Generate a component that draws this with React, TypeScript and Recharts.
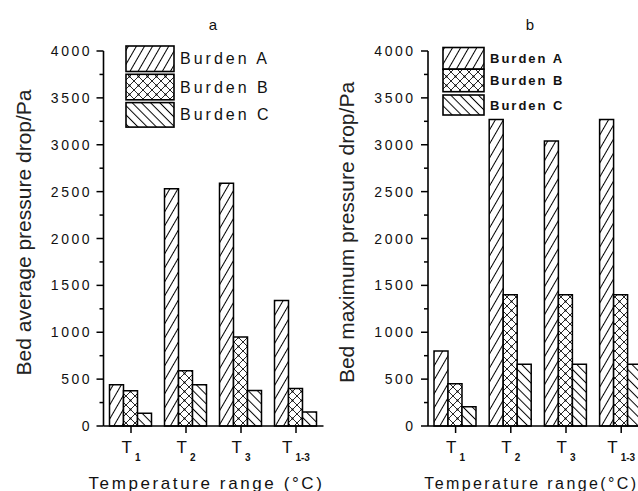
import React from 'react';
import { BarChart, Bar, XAxis, YAxis, Legend } from 'recharts';

// Temperature ranges on the category axis
const categories = ['T1', 'T2', 'T3', 'T1-3'];
const seriesNames = ['Burden A', 'Burden B', 'Burden C'];

// (a) bed average pressure drop, Pa
const avgBurdenA = [440, 2530, 2590, 1340];
const avgBurdenB = [375, 590, 950, 400];
const avgBurdenC = [135, 440, 380, 150];

// (b) bed maximum pressure drop, Pa
const maxBurdenA = [800, 3270, 3040, 3270];
const maxBurdenB = [450, 1400, 1400, 1400];
const maxBurdenC = [205, 660, 660, 660];

const yTicks = [0, 250, 500, 750, 1000, 1250, 1500, 1750, 2000, 2250, 2500, 2750, 3000, 3250, 3500, 3750, 4000];
const yDomain = [0, 4000];

const FONT = '"Liberation Sans", Arial, sans-serif';
const fills = ['url(#hatch-a)', 'url(#hatch-b)', 'url(#hatch-c)'];

const buildRows = (a: number[], b: number[], c: number[]) =>
  categories.map((cat, i) => ({ cat, a: a[i], b: b[i], c: c[i] }));

const avgRows = buildRows(avgBurdenA, avgBurdenB, avgBurdenC);
const maxRows = buildRows(maxBurdenA, maxBurdenB, maxBurdenC);

const Patterns = () => (
  <svg width={0} height={0} style={{ position: 'absolute' }}>
    <defs>
      <pattern id="hatch-a" patternUnits="userSpaceOnUse" width={7} height={7} patternTransform="rotate(30)">
        <rect width={7} height={7} fill="#fff" />
        <line x1={3.5} y1={-1} x2={3.5} y2={8} stroke="#000" strokeWidth={1} />
      </pattern>
      <pattern id="hatch-b" patternUnits="userSpaceOnUse" width={9} height={9}>
        <rect width={9} height={9} fill="#fff" />
        <path d="M0,0 L9,9 M9,0 L0,9" stroke="#000" strokeWidth={0.85} />
        <circle cx={4.5} cy={4.5} r={1} fill="#000" />
      </pattern>
      <pattern id="hatch-c" patternUnits="userSpaceOnUse" width={6.5} height={6.5} patternTransform="rotate(-45)">
        <rect width={6.5} height={6.5} fill="#fff" />
        <line x1={3.25} y1={-1} x2={3.25} y2={7.5} stroke="#000" strokeWidth={1} />
      </pattern>
    </defs>
  </svg>
);

// Left-axis ticks: long marks with labels every 500, short marks between
const makeYTick = (labelGap: number) => (props: any) => {
  const { x, y, payload } = props;
  const v = Number(payload.value);
  const major = v % 500 === 0;
  return (
    <g>
      <line x1={x - (major ? 7 : 4)} x2={x} y1={y} y2={y} stroke="#000" strokeWidth={1.5} />
      {major && (
        <text x={x - labelGap} y={y} dy={5} textAnchor="end" fontSize={14} letterSpacing={2.5} fontFamily={FONT} fill="#111">
          {v}
        </text>
      )}
    </g>
  );
};

// Category ticks: "T" with the range index as a subscript
const XTick = (props: any) => {
  const { x, y, payload } = props;
  const label = String(payload.value);
  return (
    <text x={x} y={y} dy={20} textAnchor="middle" fontFamily={FONT} fill="#111">
      <tspan fontSize={17}>{label.slice(0, 1)}</tspan>
      <tspan fontSize={10} fontWeight="bold" dx={3} dy={8}>{label.slice(1)}</tspan>
    </text>
  );
};

type LegendRow = { y: number; h: number };

const makeLegend = (boxW: number, rows: LegendRow[], fontSize: number, bold: boolean, spacing: number) => () => {
  const height = rows[rows.length - 1].y + rows[rows.length - 1].h + 2;
  return (
    <svg width={boxW + 110} height={height} style={{ display: 'block', overflow: 'visible' }}>
      {seriesNames.map((name, i) => (
        <g key={name}>
          <rect x={1} y={rows[i].y + 1} width={boxW} height={rows[i].h} fill={fills[i]} stroke="#000" strokeWidth={1.6} />
          <text
            x={boxW + 7}
            y={rows[i].y + 1 + rows[i].h / 2}
            dominantBaseline="central"
            fontSize={fontSize}
            fontWeight={bold ? 'bold' : 'normal'}
            letterSpacing={spacing}
            fontFamily={FONT}
            fill="#111"
          >
            {name}
          </text>
        </g>
      ))}
    </svg>
  );
};

type PanelProps = {
  rows: any[];
  width: number;
  yAxisWidth: number;
  marginRight: number;
  yLabel: string;
  yLabelDx: number;
  yLabelSize: number;
  xLabel: string;
  xLabelDx: number;
  xLabelSize: number;
  xLabelSpacing: number;
  labelGap: number;
  legendLeft: number;
  legend: () => React.ReactElement;
};

const Panel = (p: PanelProps) => (
  <BarChart
    width={p.width}
    height={491}
    data={p.rows}
    margin={{ top: 51, right: p.marginRight, bottom: 0, left: 0 }}
    barGap={0}
    barCategoryGap={6}
  >
    <XAxis
      dataKey="cat"
      height={65}
      axisLine={{ stroke: '#000', strokeWidth: 1.6 }}
      tickLine={{ stroke: '#000', strokeWidth: 1.5 }}
      tickSize={7}
      tickMargin={0}
      tick={<XTick />}
      interval={0}
      label={{
        content: (lp: any) => {
          const vb = lp.viewBox || { x: 0, y: 426, width: 220, height: 65 };
          return (
            <text
              x={vb.x + vb.width / 2 + p.xLabelDx}
              y={vb.y + 57}
              textAnchor="middle"
              dominantBaseline="central"
              fontSize={p.xLabelSize}
              letterSpacing={p.xLabelSpacing}
              fontFamily={FONT}
              fill="#111"
            >
              {p.xLabel}
            </text>
          );
        },
      }}
    />
    <YAxis
      width={p.yAxisWidth}
      domain={yDomain}
      ticks={yTicks}
      interval={0}
      axisLine={{ stroke: '#000', strokeWidth: 1.6 }}
      tickLine={false}
      tickSize={0}
      tickMargin={0}
      tick={makeYTick(p.labelGap)}
      label={{
        content: (lp: any) => {
          const vb = lp.viewBox || { x: 0, y: 51, width: p.yAxisWidth, height: 375 };
          const cx = vb.x + p.yLabelDx;
          const cy = vb.y + vb.height / 2 - 6;
          return (
            <text
              x={cx}
              y={cy}
              transform={`rotate(-90, ${cx}, ${cy})`}
              textAnchor="middle"
              dominantBaseline="central"
              fontSize={p.yLabelSize}
              fontFamily={FONT}
              fill="#222"
            >
              {p.yLabel}
            </text>
          );
        },
      }}
    />
    <Legend
      layout="horizontal"
      align="center"
      verticalAlign="middle"
      wrapperStyle={{ position: 'absolute', left: p.legendLeft, top: 45, width: 'auto', height: 'auto' }}
      content={p.legend}
    />
    <Bar dataKey="a" name={seriesNames[0]} fill={fills[0]} stroke="#000" strokeWidth={1.5} isAnimationActive={false} />
    <Bar dataKey="b" name={seriesNames[1]} fill={fills[1]} stroke="#000" strokeWidth={1.5} isAnimationActive={false} />
    <Bar dataKey="c" name={seriesNames[2]} fill={fills[2]} stroke="#000" strokeWidth={1.5} isAnimationActive={false} />
  </BarChart>
);

const titleStyle: React.CSSProperties = {
  position: 'absolute',
  top: 16,
  width: 20,
  textAlign: 'center',
  fontFamily: FONT,
  fontSize: 15,
  color: '#111',
};

export default function App() {
  return (
    <div style={{ position: 'absolute', left: 0, top: 0, width: 638, height: 491, overflow: 'hidden', background: '#fff' }}>
      <Patterns />
      <div style={{ position: 'absolute', left: 0, top: 0 }}>
        <Panel
          rows={avgRows}
          width={330}
          yAxisWidth={103.5}
          marginRight={6.5}
          yLabel="Bed average pressure drop/Pa"
          yLabelDx={23}
          yLabelSize={21}
          xLabel="Temperature range (°C)"
          xLabelDx={-7}
          xLabelSize={17}
          xLabelSpacing={2.6}
          labelGap={11.5}
          legendLeft={125}
          legend={makeLegend(48, [{ y: 0, h: 25.5 }, { y: 28.3, h: 25.5 }, { y: 56.6, h: 24.5 }], 16, false, 3)}
        />
      </div>
      <div style={{ position: 'absolute', left: 318, top: 0 }}>
        <Panel
          rows={maxRows}
          width={340}
          yAxisWidth={110}
          marginRight={9.2}
          yLabel="Bed maximum pressure drop/Pa"
          yLabelDx={28}
          yLabelSize={21}
          xLabel="Temperature range(°C)"
          xLabelDx={-7}
          xLabelSize={16}
          xLabelSpacing={2.4}
          labelGap={12.5}
          legendLeft={124}
          legend={makeLegend(41, [{ y: 1.5, h: 21.7 }, { y: 23.2, h: 22.5 }, { y: 49, h: 20 }], 13, true, 2)}
        />
      </div>
      <div style={{ ...titleStyle, left: 203 }}>a</div>
      <div style={{ ...titleStyle, left: 520 }}>b</div>
    </div>
  );
}
